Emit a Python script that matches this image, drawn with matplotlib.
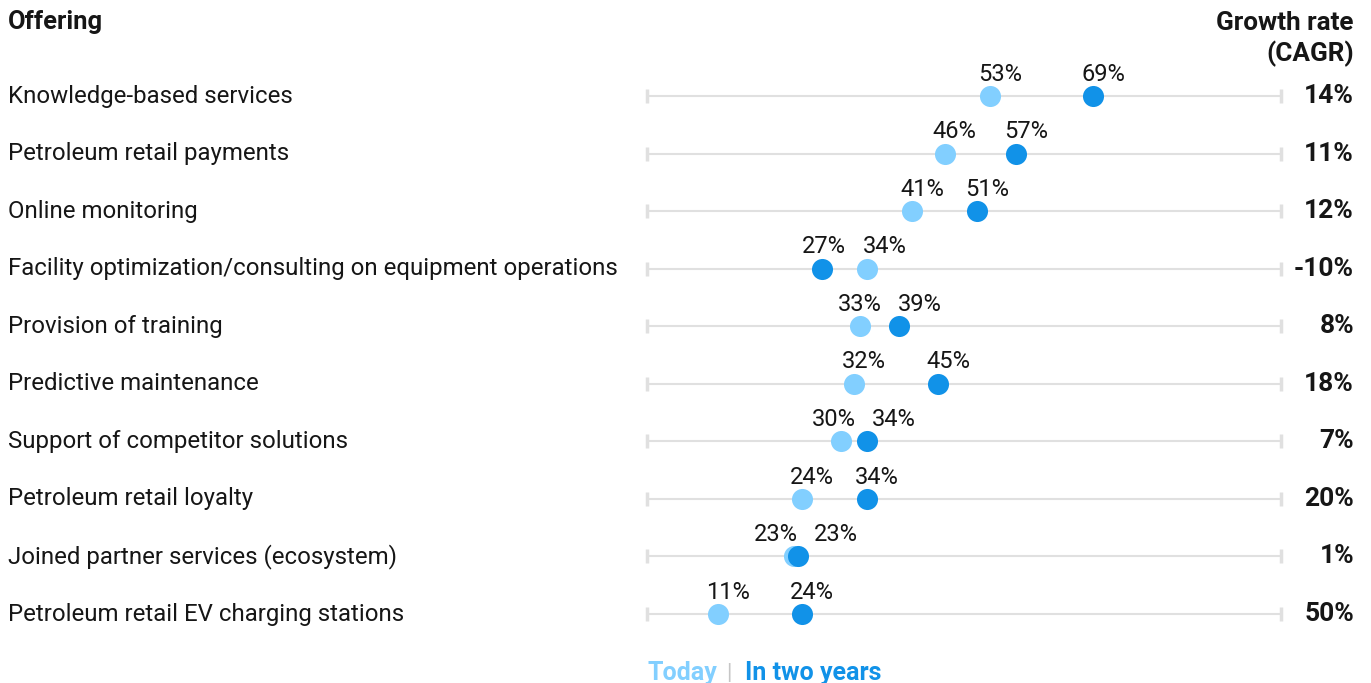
import matplotlib
matplotlib.use("Agg")
import matplotlib.pyplot as plt
from matplotlib.transforms import blended_transform_factory

# data
offerings = [
    "Knowledge-based services",
    "Petroleum retail payments",
    "Online monitoring",
    "Facility optimization/consulting on equipment operations",
    "Provision of training",
    "Predictive maintenance",
    "Support of competitor solutions",
    "Petroleum retail loyalty",
    "Joined partner services (ecosystem)",
    "Petroleum retail EV charging stations",
]
today = [53, 46, 41, 34, 33, 32, 30, 24, 22.7, 11]
two_years = [69, 57, 51, 27, 39, 45, 34, 34, 23.4, 24]
cagr = ["14%", "11%", "12%", "-10%", "8%", "18%", "7%", "20%", "1%", "50%"]

LIGHT = "#82cfff"
DARK = "#1192e8"
GRID = "#e0e0e0"
TXT = "#161616"

plt.rcParams['font.family'] = ['Roboto', 'DejaVu Sans']

W, H = 1371, 683
fig = plt.figure(figsize=(W / 100, H / 100), dpi=100)
ax = fig.add_axes([647 / W, 0, (1281 - 647) / W, 1])
XMAX = 98
ax.set_xlim(0, XMAX)
# rows at ~96px .. 614px from the top
ax.set_ylim(10.198, -1.668)
ax.axis("off")

rows = list(range(len(offerings)))
lab = blended_transform_factory(fig.transFigure, ax.transData)
ends = blended_transform_factory(ax.transAxes, ax.transData)

for i in rows:
    ax.axhline(i, color=GRID, lw=1.5, zorder=1)
    ax.plot([0, 1], [i, i], transform=ends, ls="none", marker="|", ms=10,
            mew=2.5, color=GRID, zorder=1, clip_on=False)
    ax.text(8 / W, i, offerings[i], transform=lab, ha="left", va="center",
            fontsize=17.3, color=TXT)
    ax.text(1354 / W, i, cagr[i], transform=lab, ha="right", va="center",
            fontsize=19, fontweight="bold", color=TXT)

ax.scatter(today, rows, s=230, color=LIGHT, zorder=3, linewidths=0)
ax.scatter(two_years, rows, s=230, color=DARK, zorder=4, linewidths=0)

# value labels above the dots, pushed apart when they would collide
px = (1281 - 647) / XMAX
min_gap = 60 / px
shift = 10 / px
for i in rows:
    a, b = today[i] + shift, two_years[i] + shift
    if abs(a - b) < min_gap:
        mid = (a + b) / 2
        if today[i] <= two_years[i]:
            a, b = mid - min_gap / 2, mid + min_gap / 2
        else:
            a, b = mid + min_gap / 2, mid - min_gap / 2
    ax.text(a, i - 0.38, f"{today[i]:.0f}%", ha="center", va="center", fontsize=17, color=TXT)
    ax.text(b, i - 0.38, f"{two_years[i]:.0f}%", ha="center", va="center", fontsize=17, color=TXT)

fig.text(8 / W, 1 - 22 / H, "Offering", ha="left", va="center",
         fontsize=18.4, fontweight="bold", color=TXT)
fig.text(1354 / W, 1 - 39 / H, "Growth rate\n(CAGR)", ha="right", va="center",
         fontsize=18.8, fontweight="bold", color=TXT, linespacing=1.3)

# legend at the bottom
fig.text(647 / W, 1 - 673 / H, "Today", ha="left", va="center",
         fontsize=18, fontweight="bold", color=LIGHT)
fig.text(729 / W, 1 - 673 / H, "|", ha="center", va="center",
         fontsize=16, color="#c6c6c6")
fig.text(745 / W, 1 - 673 / H, "In two years", ha="left", va="center",
         fontsize=18, fontweight="bold", color=DARK)

fig.savefig("out.png", dpi=100, facecolor="white")
